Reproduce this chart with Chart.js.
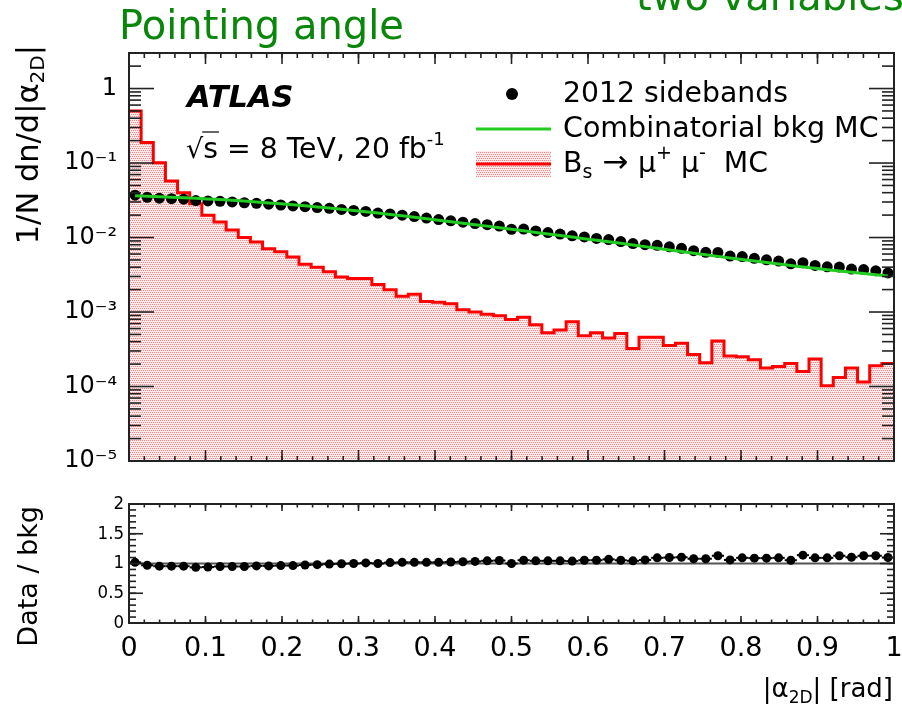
<!DOCTYPE html>
<html><head><meta charset="utf-8">
<script src="https://cdn.jsdelivr.net/npm/chart.js@4.4.1/dist/chart.umd.min.js"></script>
<style>
html,body{margin:0;padding:0;background:#fff;}
#wrap{position:relative;width:902px;height:706px;overflow:hidden;background:#fff;}
canvas{position:absolute;left:0;top:0;}
</style></head><body>
<div id="wrap"><canvas id="c1" width="902" height="706"></canvas><canvas id="c2" width="902" height="706"></canvas></div>
<script>
// ---------------- data ----------------
const nBins = 63, xMin = 0, xMax = 1;
const sidebandData = [0.03704,0.03474,0.03373,0.03319,0.03266,0.03139,0.03098,0.03067,0.03004,0.02929,
  0.02879,0.02800,0.02732,0.02652,0.02594,0.02524,0.02464,0.02387,0.02307,0.02240,
  0.02128,0.02073,0.01993,0.01908,0.01827,0.01744,0.01674,0.01607,0.01541,0.01486,
  0.01423,0.01291,0.01298,0.01225,0.01167,0.01112,0.01055,0.01019,0.009710,0.009384,
  0.008816,0.008300,0.008004,0.007860,0.007505,0.007167,0.006659,0.006330,0.006311,0.005640,
  0.005552,0.005266,0.005028,0.004825,0.004438,0.004591,0.004221,0.004049,0.004009,0.003770,
  0.003708,0.003573,0.003353];
const bkgMC = [0.03631,0.03581,0.03532,0.03475,0.03420,0.03357,0.03296,0.03228,0.03162,0.03083,
  0.02999,0.02917,0.02831,0.02748,0.02661,0.02576,0.02489,0.02399,0.02307,0.02218,
  0.02128,0.02042,0.01954,0.01871,0.01791,0.01710,0.01633,0.01560,0.01489,0.01422,
  0.01355,0.01291,0.01230,0.01172,0.01117,0.01064,0.01014,0.009661,0.009204,0.008770,
  0.008356,0.007943,0.007551,0.007178,0.006823,0.006486,0.006166,0.005861,0.005585,0.005321,
  0.005070,0.004831,0.004613,0.004406,0.004207,0.004027,0.003855,0.003698,0.003548,0.003412,
  0.003281,0.003162,0.003048];
const signalMC = [0.501,0.1888,0.1009,0.05754,0.03981,0.02851,0.01995,0.01622,0.01259,0.01000,
  0.008710,0.007079,0.006457,0.005495,0.004365,0.003981,0.003467,0.002951,0.002818,0.002818,
  0.002344,0.001995,0.001622,0.001738,0.001380,0.001349,0.001288,0.001072,0.001000,0.0009333,
  0.0008913,0.0007943,0.0008511,0.0006761,0.0005248,0.0005754,0.0007413,0.0004786,0.0005248,0.0004467,
  0.0005129,0.0003236,0.0004571,0.0004571,0.0003548,0.0003802,0.0002692,0.0002089,0.0004074,0.0002570,
  0.0002512,0.0002291,0.0001778,0.0001862,0.0002042,0.0001585,0.0002344,0.0001023,0.0001318,0.0001778,
  0.0001148,0.0001905,0.0002042];
const ratio = [1.02,0.97,0.955,0.955,0.955,0.935,0.94,0.95,0.95,0.95,
  0.96,0.96,0.965,0.965,0.975,0.98,0.99,0.995,1.0,1.01,
  1.0,1.015,1.02,1.02,1.02,1.02,1.025,1.03,1.035,1.045,
  1.05,1.0,1.055,1.045,1.045,1.045,1.04,1.055,1.055,1.07,
  1.055,1.045,1.06,1.095,1.10,1.105,1.08,1.08,1.13,1.06,
  1.095,1.09,1.09,1.095,1.055,1.14,1.095,1.095,1.13,1.105,
  1.13,1.13,1.10];
const xTickLabels = ['0','0.1','0.2','0.3','0.4','0.5','0.6','0.7','0.8','0.9','1'];
const xTickValues = [0,0.1,0.2,0.3,0.4,0.5,0.6,0.7,0.8,0.9,1];
const yDecades = [1e-5,1e-4,1e-3,1e-2,1e-1,1];
const yDecadeLabels = ['10\u207B\u2075','10\u207B\u2074','10\u207B\u00B3','10\u207B\u00B2','10\u207B\u00B9','1'];
const ratioTickValues = [0,0.5,1,1.5,2];
const ratioTickLabels = ['0','0.5','1','1.5','2'];

// ---------------- helpers ----------------
const FONT = 'DejaVu Sans';
const binW = (xMax - xMin) / nBins;
const centers = sidebandData.map((_, i) => xMin + (i + 0.5) * binW);
const edges = signalMC.map((_, i) => xMin + i * binW);

function makePattern(ctx) {
  const t = document.createElement('canvas'); t.width = 4; t.height = 4;
  const g = t.getContext('2d');
  g.fillStyle = 'rgba(255,0,0,0.08)'; g.fillRect(0, 0, 4, 4);
  g.fillStyle = 'rgba(255,40,40,0.55)';
  [[0,0],[2,0],[1,2],[3,2]].forEach(([x, y]) => g.fillRect(x, y, 1, 1));
  return ctx.createPattern(t, 'repeat');
}

function seg(ctx, x1, y1, x2, y2) { ctx.beginPath(); ctx.moveTo(x1, y1); ctx.lineTo(x2, y2); ctx.stroke(); }

function drawFrame(chart, o) {
  const { ctx, chartArea: a, scales } = chart;
  const xs = scales.x, ys = scales.y;
  ctx.save();
  ctx.strokeStyle = '#222'; ctx.lineWidth = 1.6;
  o.xMajor.forEach(v => { const p = xs.getPixelForValue(v);
    seg(ctx, p, a.bottom, p, a.bottom - o.xMajLen); seg(ctx, p, a.top, p, a.top + o.xMajLen); });
  o.xMinor.forEach(v => { const p = xs.getPixelForValue(v);
    seg(ctx, p, a.bottom, p, a.bottom - o.xMinLen); seg(ctx, p, a.top, p, a.top + o.xMinLen); });
  o.yMajor.forEach(v => { const p = ys.getPixelForValue(v);
    seg(ctx, a.left, p, a.left + o.yMajLen, p); seg(ctx, a.right, p, a.right - o.yMajLen, p); });
  o.yMinor.forEach(v => { const p = ys.getPixelForValue(v);
    seg(ctx, a.left, p, a.left + o.yMinLen, p); seg(ctx, a.right, p, a.right - o.yMinLen, p); });
  ctx.lineWidth = 2;
  ctx.strokeRect(a.left, a.top, a.right - a.left, a.bottom - a.top);
  ctx.restore();
}

// rich text: parts = [{t, s(size), st(style), dy}]
function rich(ctx, x, y, parts, align) {
  let total = 0;
  parts.forEach(p => { ctx.font = (p.st || '') + ' ' + p.s + 'px "' + FONT + '"'; p._w = ctx.measureText(p.t).width; total += p._w; });
  let cx = align === 'right' ? x - total : x;
  parts.forEach(p => { ctx.font = (p.st || '') + ' ' + p.s + 'px "' + FONT + '"'; ctx.fillText(p.t, cx, y + (p.dy || 0)); p._x = cx; cx += p._w; });
  return { total, parts };
}

const xMinorVals = []; for (let k = 0; k <= 50; k++) xMinorVals.push(k * 0.02);
const yLogMinor = []; yDecades.forEach(d => { for (let k = 2; k <= 9; k++) { if (k * d <= 3.0) yLogMinor.push(k * d); } });
const rMinor = []; for (let k = 0; k <= 20; k++) rMinor.push(k * 0.1);

// ---------------- main panel ----------------
const c1 = document.getElementById('c1');
const ctx1 = c1.getContext('2d');
const pattern = makePattern(ctx1);

const framePlugin1 = {
  id: 'frame1',
  afterDatasetsDraw(chart) {
    drawFrame(chart, { xMajor: xTickValues, xMinor: xMinorVals, xMajLen: 11, xMinLen: 5,
      yMajor: yDecades, yMinor: yLogMinor, yMajLen: 25, yMinLen: 12 });
  },
  afterDraw(chart) {
    const ctx = chart.ctx;
    ctx.save();
    ctx.textAlign = 'left'; ctx.textBaseline = 'alphabetic';
    // title
    ctx.fillStyle = '#0a870a';
    ctx.font = '40px "' + FONT + '"';
    ctx.fillText('Pointing angle', 119, 39);
    ctx.fillText('two variables', 636, 10);
    // ATLAS
    ctx.fillStyle = '#000';
    ctx.font = 'italic bold 30.5px "' + FONT + '"';
    ctx.fillText('ATLAS', 187, 107);
    // sqrt(s) line
    const r = rich(ctx, 186, 158, [
      { t: '\u221A', s: 27 }, { t: 's = 8 TeV, 20 fb', s: 28.3 }, { t: '-1', s: 18, dy: -13 }
    ]);
    ctx.font = '28.3px "' + FONT + '"';
    const sw = ctx.measureText('s').width;
    ctx.strokeStyle = '#000'; ctx.lineWidth = 1.2;
    seg(ctx, r.parts[1]._x - 1, 158 - 26, r.parts[1]._x + sw + 1, 158 - 26);
    // legend
    ctx.fillStyle = '#000';
    ctx.beginPath(); ctx.arc(512, 94, 6, 0, 2 * Math.PI); ctx.fill();
    rich(ctx, 563, 102, [{ t: '2012 sidebands', s: 28.3 }]);
    ctx.strokeStyle = '#22cc22'; ctx.lineWidth = 3;
    seg(ctx, 476, 129, 551, 129);
    rich(ctx, 563, 137, [{ t: 'Combinatorial bkg MC', s: 28.5 }]);
    ctx.fillStyle = pattern; ctx.fillRect(476, 151, 75, 26);
    ctx.strokeStyle = '#ff0000'; ctx.lineWidth = 3;
    seg(ctx, 476, 164, 551, 164);
    ctx.fillStyle = '#000';
    rich(ctx, 563, 172, [
      { t: 'B', s: 28.3 }, { t: 's', s: 19, dy: 6 }, { t: ' \u2192 ', s: 31 }, { t: '\u03BC', s: 28.3 }, { t: '+', s: 19, dy: -13 },
      { t: ' \u03BC', s: 28.3 }, { t: '-', s: 19, dy: -13 }, { t: '  MC', s: 28.3 }
    ]);
    // y title (rotated)
    ctx.save();
    ctx.translate(38, 45); ctx.rotate(-Math.PI / 2);
    rich(ctx, 0, 0, [
      { t: '1/N dn/d|\u03B1', s: 30.5 }, { t: '2D', s: 20, dy: 6 }, { t: '|', s: 30.5 }
    ], 'right');
    ctx.restore();
    ctx.restore();
  }
};

new Chart(c1, {
  type: 'line',
  data: {
    datasets: [
      { label: 'Combinatorial bkg MC', data: centers.map((x, i) => ({ x, y: bkgMC[i] })),
        borderColor: '#22cc22', borderWidth: 3, pointRadius: 0, fill: false, tension: 0, order: 1 },
      { label: '2012 sidebands', data: centers.map((x, i) => ({ x, y: sidebandData[i] })),
        showLine: false, pointRadius: 5.5, pointBackgroundColor: '#000', pointBorderColor: '#000', pointBorderWidth: 0, order: 2 },
      { label: 'Bs MC', data: edges.map((x, i) => ({ x, y: signalMC[i] })).concat([{ x: xMax, y: signalMC[nBins - 1] }]),
        stepped: 'before', borderColor: '#ff0000', borderWidth: 3, pointRadius: 0, backgroundColor: pattern, fill: 'start', order: 3 }
    ]
  },
  options: {
    responsive: false, animation: false, devicePixelRatio: 1,
    layout: { padding: { left: 0, right: 8, top: 53, bottom: 706 - 461 } },
    plugins: { legend: { display: false }, tooltip: { enabled: false } },
    scales: {
      x: { type: 'linear', min: xMin, max: xMax, display: false },
      y: { type: 'logarithmic', min: 1e-5, max: 3.0,
        afterFit(s) { s.width = 129; s.paddingTop = 0; s.paddingBottom = 0; },
        afterBuildTicks(s) { s.ticks = yDecades.map(v => ({ value: v })); },
        grid: { display: false, drawTicks: false }, border: { display: false },
        ticks: { font: { family: FONT, size: 24 }, color: '#000', padding: 12, autoSkip: false,
          callback: (v) => { const i = yDecades.findIndex(d => Math.abs(Math.log10(d) - Math.log10(v)) < 1e-6); return i >= 0 ? yDecadeLabels[i] : ''; } }
      }
    }
  },
  plugins: [framePlugin1]
});

// ---------------- ratio panel ----------------
const c2 = document.getElementById('c2');
const framePlugin2 = {
  id: 'frame2',
  afterDatasetDraw(chart, args) {
    if (args.index !== 0) return;
    const ctx = chart.ctx, xs = chart.scales.x, ys = chart.scales.y;
    ctx.save(); ctx.strokeStyle = '#000'; ctx.lineWidth = 2;
    ratio.forEach((r, i) => {
      const y = ys.getPixelForValue(r);
      seg(ctx, xs.getPixelForValue(edges[i]), y, xs.getPixelForValue(edges[i] + binW), y);
    });
    ctx.restore();
  },
  afterDatasetsDraw(chart) {
    drawFrame(chart, { xMajor: xTickValues, xMinor: xMinorVals, xMajLen: 7, xMinLen: 3.5,
      yMajor: ratioTickValues, yMinor: rMinor, yMajLen: 14, yMinLen: 7 });
  },
  afterDraw(chart) {
    const ctx = chart.ctx;
    ctx.save(); ctx.fillStyle = '#000'; ctx.textBaseline = 'alphabetic';
    rich(ctx, 893, 697, [
      { t: '|\u03B1', s: 26 }, { t: '2D', s: 17, dy: 6 }, { t: '| [rad]', s: 26 }
    ], 'right');
    ctx.translate(37, 506); ctx.rotate(-Math.PI / 2);
    rich(ctx, 0, 0, [{ t: 'Data / bkg', s: 27 }], 'right');
    ctx.restore();
  }
};

new Chart(c2, {
  type: 'line',
  data: {
    datasets: [
      { label: 'unity', data: [{ x: xMin, y: 1 }, { x: xMax, y: 1 }], borderColor: '#555', borderWidth: 2, pointRadius: 0, order: 2 },
      { label: 'Data / bkg', data: centers.map((x, i) => ({ x, y: ratio[i] })), showLine: false,
        pointRadius: 4.5, pointBackgroundColor: '#000', pointBorderWidth: 0, order: 1 }
    ]
  },
  options: {
    responsive: false, animation: false, devicePixelRatio: 1,
    layout: { padding: { left: 0, right: 8, top: 504, bottom: 0 } },
    plugins: { legend: { display: false }, tooltip: { enabled: false } },
    scales: {
      x: { type: 'linear', min: xMin, max: xMax,
        afterFit(s) { s.height = 83; s.paddingLeft = 0; s.paddingRight = 0; },
        afterBuildTicks(s) { s.ticks = xTickValues.map(v => ({ value: v })); },
        grid: { display: false, drawTicks: false }, border: { display: false },
        ticks: { font: { family: FONT, size: 27 }, color: '#000', padding: 10, maxRotation: 0, autoSkip: false,
          callback: (v) => { const i = xTickValues.findIndex(t => Math.abs(t - v) < 1e-9); return i >= 0 ? xTickLabels[i] : ''; } }
      },
      y: { type: 'linear', min: 0, max: 2,
        afterFit(s) { s.width = 129; s.paddingTop = 0; s.paddingBottom = 0; },
        afterBuildTicks(s) { s.ticks = ratioTickValues.map(v => ({ value: v })); },
        grid: { display: false, drawTicks: false }, border: { display: false },
        ticks: { font: { family: 'DejaVu Sans Condensed', size: 18.5 }, color: '#000', padding: 5, autoSkip: false,
          callback: (v) => { const i = ratioTickValues.findIndex(t => Math.abs(t - v) < 1e-9); return i >= 0 ? ratioTickLabels[i] : ''; } }
      }
    }
  },
  plugins: [framePlugin2]
});
</script>
</body></html>
